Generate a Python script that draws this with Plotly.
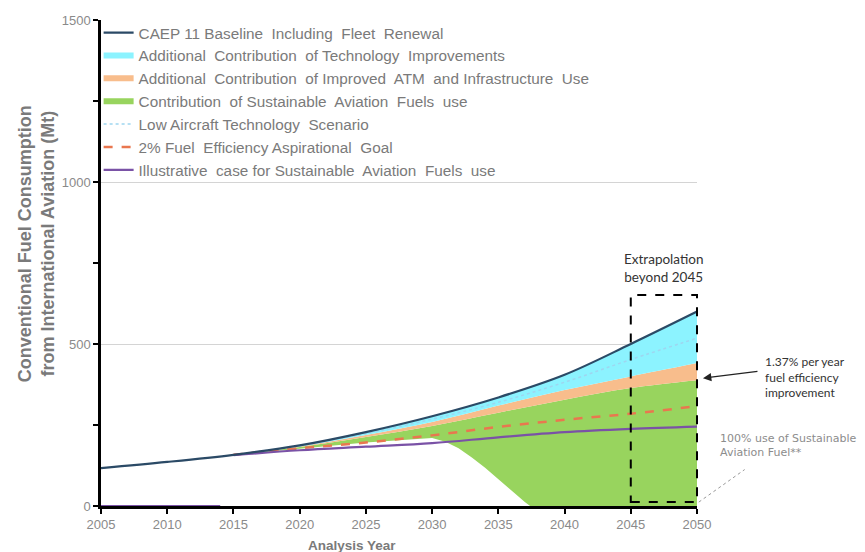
import plotly.graph_objects as go

# ---------------- data (Mt) ----------------
baseline_years = [2005, 2010, 2015, 2020, 2025, 2030, 2035, 2040, 2045, 2050]
baseline_values = [117, 136, 158, 187, 228, 277, 335, 405, 500, 600]

scen_years = [2015, 2020, 2025, 2030, 2035, 2040, 2045, 2050]
tech_values = [158, 184, 219, 259, 310, 358, 400, 441]        # after technology improvements
atm_values = [158, 182, 213, 247, 288, 328, 364, 388]         # after improved ATM / infrastructure
low_tech_values = [158, 186, 224, 268, 320, 382, 452, 518]    # low aircraft technology scenario
goal_values = [158, 178, 196, 218, 244, 266, 285, 308]        # 2% aspirational goal

saf_case_years = [2005, 2014, 2014.5, 2015, 2020, 2025, 2030, 2035, 2040, 2045, 2050]
saf_case_values = [0, 0, None, 157, 172, 183, 194, 212, 228, 238, 245]

saf_floor_years = [2015, 2020, 2025, 2030, 2031, 2032, 2033, 2034, 2035, 2036, 2037, 2037.4, 2040, 2045, 2050]
saf_floor_values = [158, 178, 196, 210, 198, 178, 150, 118, 82, 48, 12, 0, 0, 0, 0]

x_ticks = [2005, 2010, 2015, 2020, 2025, 2030, 2035, 2040, 2045, 2050]
y_ticks = [0, 500, 1000, 1500]

names = [
    "CAEP 11 Baseline  Including  Fleet  Renewal",
    "Additional  Contribution  of Technology  Improvements",
    "Additional  Contribution  of Improved  ATM  and Infrastructure  Use",
    "Contribution  of Sustainable  Aviation  Fuels  use",
    "Low Aircraft Technology  Scenario",
    "2% Fuel  Efficiency Aspirational  Goal",
    "Illustrative  case for Sustainable  Aviation  Fuels  use",
]

C_BASE = "#2B4A66"
C_CYAN = "#8CF3FF"
C_ORANGE = "#F8BD8C"
C_GREEN = "#98D45E"
C_LOWTECH = "#9ED6F0"
C_GOAL = "#E9774F"
C_SAF = "#7A52A6"

fig = go.Figure()

# green floor (invisible)
fig.add_trace(go.Scatter(x=saf_floor_years, y=saf_floor_values, mode="lines",
                         line=dict(width=0, color=C_GREEN), showlegend=False, hoverinfo="skip"))
# green fill
fig.add_trace(go.Scatter(x=scen_years, y=atm_values, mode="none", fill="tonexty",
                         fillcolor=C_GREEN, name=names[3], legendrank=4, line_shape="spline"))
# orange fill
fig.add_trace(go.Scatter(x=scen_years, y=tech_values, mode="none", fill="tonexty",
                         fillcolor=C_ORANGE, name=names[2], legendrank=3, line_shape="spline"))
# cyan fill (up to baseline, from 2015)
i0 = baseline_years.index(scen_years[0])
fig.add_trace(go.Scatter(x=baseline_years[i0:], y=baseline_values[i0:], mode="none", fill="tonexty",
                         fillcolor=C_CYAN, name=names[1], legendrank=2, line_shape="spline"))
# low tech dotted
fig.add_trace(go.Scatter(x=scen_years, y=low_tech_values, mode="lines", name=names[4], legendrank=5,
                         line=dict(color=C_LOWTECH, width=1.5, dash="dot", shape="spline")))
# 2% goal
fig.add_trace(go.Scatter(x=scen_years, y=goal_values, mode="lines", name=names[5], legendrank=6,
                         line=dict(color=C_GOAL, width=2.5, dash="dash", shape="spline")))
# SAF illustrative case
fig.add_trace(go.Scatter(x=saf_case_years, y=saf_case_values, mode="lines", name=names[6], legendrank=7,
                         connectgaps=False, cliponaxis=False,
                         line=dict(color=C_SAF, width=2.2, shape="spline")))
# baseline
fig.add_trace(go.Scatter(x=baseline_years, y=baseline_values, mode="lines", name=names[0], legendrank=1,
                         line=dict(color=C_BASE, width=2.2, shape="spline")))

tickfont = dict(family="Liberation Sans, Arial", size=13, color="#8a8a8a")
title_color = "#7a7a7a"

fig.update_layout(
    width=865, height=552,
    margin=dict(l=101, r=168, t=20, b=46),
    plot_bgcolor="white", paper_bgcolor="white",
    showlegend=True,
    legend=dict(x=-0.004, y=1.008, xanchor="left", yanchor="top",
                font=dict(family="Liberation Sans, Arial", size=15.3, color="#7a7a7a"),
                bgcolor="rgba(255,255,255,0)", itemwidth=30, traceorder="normal"),
    xaxis=dict(range=[2005, 2050], tickvals=x_ticks, ticks="outside", ticklen=5, tickwidth=2,
               tickcolor="#000000", showline=True, linecolor="#000000", linewidth=2.5,
               showgrid=False, zeroline=False, tickfont=tickfont, layer="below traces"),
    yaxis=dict(range=[0, 1500], tickvals=y_ticks, ticks="outside", ticklen=5, tickwidth=2,
               tickcolor="#000000", showline=True, linecolor="#000000", linewidth=2.5,
               showgrid=True, gridcolor="#d4d4d4", gridwidth=1, zeroline=False, tickfont=tickfont,
               minor=dict(dtick=250, tick0=0, ticks="outside", ticklen=5, tickcolor="#000000",
                          tickwidth=2, showgrid=False)),
)

# axis titles
fig.add_annotation(text="<b>Conventional Fuel Consumption<br>from International Aviation (Mt)</b>",
                   xref="paper", yref="paper", x=-0.108, y=0.54, textangle=-90,
                   showarrow=False, font=dict(family="Liberation Sans, Arial", size=18, color=title_color),
                   xanchor="center", yanchor="middle")
fig.add_annotation(text="<b>Analysis Year</b>", xref="paper", yref="paper", x=0.421, y=-0.082,
                   showarrow=False, font=dict(family="Liberation Sans, Arial", size=13.5, color=title_color),
                   xanchor="center", yanchor="middle")

# extrapolation box
fig.add_shape(type="rect", xref="paper", yref="paper", x0=40 / 45, x1=1.0, y0=0.008, y1=0.434,
              line=dict(color="black", width=2, dash="dash"), fillcolor="rgba(0,0,0,0)", layer="above")
fig.add_annotation(text="Extrapolation<br>beyond 2045", xref="paper", yref="paper", x=42.5 / 45, y=0.49,
                   showarrow=False, font=dict(family="Lato, Open Sans", size=13.5, color="#333333"),
                   xanchor="center", yanchor="middle")

# 1.37% callout
fig.add_annotation(text="1.37% per year<br>fuel efficiency<br>improvement", xref="paper", yref="paper",
                   x=1.11, y=0.266, showarrow=False, align="left", xanchor="left", yanchor="middle",
                   font=dict(family="Lato, Open Sans", size=12, color="#333333"))
fig.add_annotation(text="", xref="paper", yref="paper", x=1.01, y=0.263, ax=56, ay=-7,
                   showarrow=True, arrowhead=2, arrowsize=1.4, arrowwidth=1.2, arrowcolor="#222222")

# 100% SAF note
fig.add_annotation(text="100% use of Sustainable<br>Aviation Fuel**", xref="paper", yref="paper",
                   x=1.036, y=0.125, showarrow=False, align="left", xanchor="left", yanchor="middle",
                   font=dict(family="DejaVu Sans, Verdana", size=11, color="#8c8c8c"))
fig.add_shape(type="line", xref="paper", yref="paper", x0=1.003, y0=0.008, x1=1.08, y1=0.075,
              line=dict(color="#999999", width=1, dash="dot"))

fig.write_html("out.html")
